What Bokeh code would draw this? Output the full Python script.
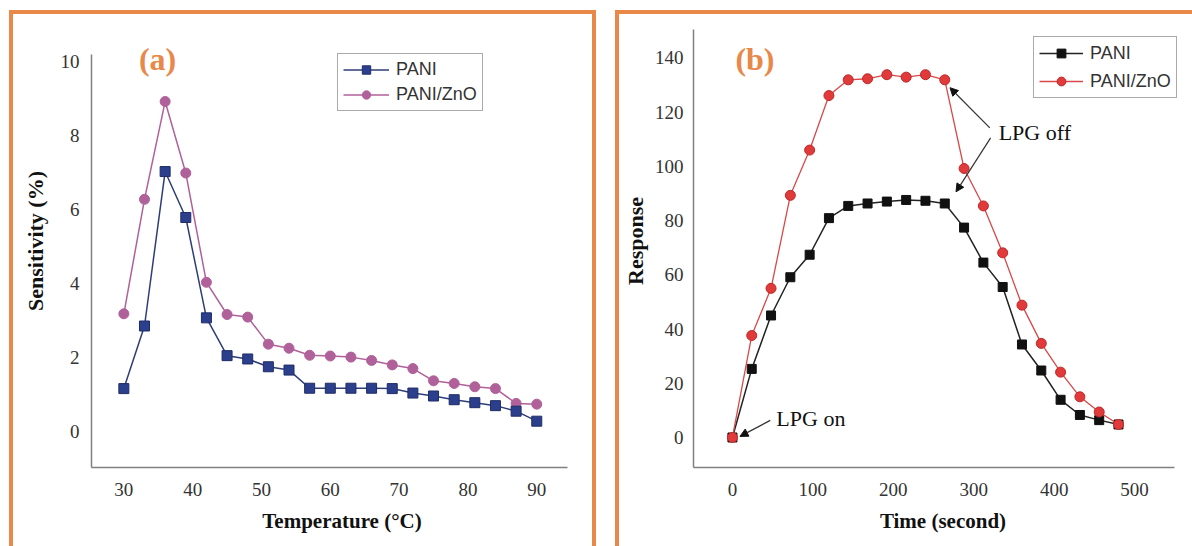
from bokeh.plotting import figure
from bokeh.layouts import row
from bokeh.models import (Arrow, NormalHead, Label, Legend, LegendItem,
                          FixedTicker, Range1d)
from bokeh.embed import file_html
from bokeh.resources import INLINE

# ---------------- data ----------------
temperature = [30, 33, 36, 39, 42, 45, 48, 51, 54, 57, 60, 63, 66, 69, 72, 75, 78, 81, 84, 87, 90]
sens_pani = [1.17, 2.86, 7.03, 5.79, 3.08, 2.06, 1.97, 1.76, 1.67, 1.18, 1.18,
             1.18, 1.18, 1.17, 1.05, 0.97, 0.87, 0.79, 0.71, 0.56, 0.29]
sens_zno = [3.19, 6.28, 8.92, 6.99, 4.04, 3.17, 3.10, 2.37, 2.26, 2.07, 2.05,
            2.02, 1.93, 1.81, 1.71, 1.38, 1.31, 1.22, 1.17, 0.77, 0.75]

time_s = [0, 24, 48, 72, 96, 120, 144, 168, 192, 216, 240, 264, 288, 312, 336,
          360, 384, 408, 432, 456, 480]
resp_pani = [0, 25.3, 45.0, 59.1, 67.4, 80.9, 85.4, 86.3, 87.0, 87.6, 87.3,
             86.3, 77.4, 64.5, 55.5, 34.3, 24.7, 13.9, 8.3, 6.4, 4.8]
resp_zno = [0, 37.6, 55.0, 89.3, 106.0, 126.1, 131.9, 132.3, 133.8, 132.9, 133.8,
            131.9, 99.2, 85.4, 68.1, 48.8, 34.7, 24.1, 15.0, 9.4, 4.8]

ticks_a_x = [30, 40, 50, 60, 70, 80, 90]
ticks_a_y = [0, 2, 4, 6, 8, 10]
ticks_b_x = [0, 100, 200, 300, 400, 500]
ticks_b_y = [0, 20, 40, 60, 80, 100, 120, 140]

ORANGE = "#E8894A"
SERIF = "Liberation Serif"
SANS = "Liberation Sans"


def style_axes(p, xlabel, ylabel, xticks, yticks, xb, yb, ystand, ylabstand):
    for ax in (p.xaxis[0], p.yaxis[0]):
        ax.axis_line_color = "#808080"
        ax.axis_line_width = 1.5
        ax.major_tick_line_color = None
        ax.minor_tick_line_color = None
        ax.major_label_text_font = SERIF
        ax.major_label_text_font_size = "19px"
        ax.major_label_text_color = "#333333"
        ax.axis_label_text_font = SERIF
        ax.axis_label_text_font_style = "bold"
        ax.axis_label_text_color = "#111111"
    p.xaxis[0].ticker = FixedTicker(ticks=xticks)
    p.yaxis[0].ticker = FixedTicker(ticks=yticks)
    p.xaxis[0].bounds = xb
    p.yaxis[0].bounds = yb
    p.xaxis[0].axis_label = xlabel
    p.yaxis[0].axis_label = ylabel
    p.xaxis[0].axis_label_text_font_size = "21px"
    p.yaxis[0].axis_label_text_font_size = "22px"
    p.xaxis[0].major_label_standoff = 9
    p.yaxis[0].major_label_standoff = ystand
    p.xaxis[0].axis_label_standoff = 10
    p.yaxis[0].axis_label_standoff = ylabstand
    p.xgrid.grid_line_color = None
    p.ygrid.grid_line_color = None
    p.outline_line_color = None
    p.frame_align = False


def make_legend(p, items, loc, glyph_w, glyph_h, spacing):
    leg = Legend(items=items, location=loc, orientation="vertical",
                 glyph_width=glyph_w, glyph_height=glyph_h,
                 label_text_font=SANS, label_text_font_size="18px",
                 label_text_color="#333333", label_standoff=7,
                 border_line_color="#555555", border_line_width=1.5,
                 padding=5, spacing=spacing, margin=0, background_fill_alpha=1)
    p.add_layout(leg, "center")


# ---------------- panel (a) ----------------
p1 = figure(width=587, height=536, output_backend="svg", toolbar_location=None,
            x_range=Range1d(25.3, 98.1), y_range=Range1d(-0.96, 11.27),
            min_border_left=78, min_border_right=8, min_border_top=0,
            min_border_bottom=83)
style_axes(p1, "Temperature (°C)", "Sensitivity (%)", ticks_a_x, ticks_a_y,
           (25.3, 94.5), (-0.96, 10.19), 6, 10)

c_pani_a = "#2E3D78"
c_zno_a = "#B0619A"
l1 = p1.line(temperature, sens_zno, line_color=c_zno_a, line_width=1.5)
m1 = p1.scatter(temperature, sens_zno, marker="circle", size=10,
                fill_color=c_zno_a, line_color=c_zno_a)
l2 = p1.line(temperature, sens_pani, line_color=c_pani_a, line_width=1.5)
m2 = p1.scatter(temperature, sens_pani, marker="square", size=10,
                fill_color="#2B3F8C", line_color="#1F2D66")
make_legend(p1, [LegendItem(label="PANI", renderers=[l2, m2]),
                 LegendItem(label="PANI/ZnO", renderers=[l1, m1])],
            (246, 356), 46, 21, 4)
p1.add_layout(Label(x=34.9, y=10.08, text="(a)", text_font=SERIF,
                    text_font_style="bold", text_font_size="32px",
                    text_color=ORANGE, text_align="center",
                    text_baseline="middle"))
p1.styles = {"border-top": f"4px solid {ORANGE}", "border-left": f"4px solid {ORANGE}",
             "border-right": f"4px solid {ORANGE}"}
p1.margin = (10, 0, 0, 9)

# ---------------- panel (b) ----------------
p2 = figure(width=577, height=536, output_backend="svg", toolbar_location=None,
            x_range=Range1d(-48.4, 572), y_range=Range1d(-11.07, 156.0),
            min_border_left=73, min_border_right=4, min_border_top=0,
            min_border_bottom=83)
style_axes(p2, "Time (second)", "Response", ticks_b_x, ticks_b_y,
           (-48.4, 550), (-11.07, 150.5), 4, 4)

c_zno_b = "#E03A3A"
l3 = p2.line(time_s, resp_pani, line_color="#222222", line_width=1.5)
m3 = p2.scatter(time_s, resp_pani, marker="square", size=9,
                fill_color="#111111", line_color="#111111")
l4 = p2.line(time_s, resp_zno, line_color="#D94848", line_width=1.3)
m4 = p2.scatter(time_s, resp_zno, marker="circle", size=10,
                fill_color=c_zno_b, line_color="#C02828")
make_legend(p2, [LegendItem(label="PANI", renderers=[l3, m3]),
                 LegendItem(label="PANI/ZnO", renderers=[l4, m4])],
            (340, 369), 44, 22, 6)
p2.add_layout(Label(x=28, y=139.6, text="(b)", text_font=SERIF,
                    text_font_style="bold", text_font_size="32px",
                    text_color=ORANGE, text_align="center",
                    text_baseline="middle"))
for txt, x, y in [("LPG on", 54.6, 7.0), ("LPG off", 331, 112.4)]:
    p2.add_layout(Label(x=x, y=y, text=txt, text_font=SERIF,
                        text_font_size="22px", text_color="#111111",
                        text_align="left", text_baseline="middle"))
for xs, ys, xe, ye in [(47, 6.3, 9.4, 0.4), (320, 114.2, 270.5, 129),
                       (321, 110.5, 278, 90.6)]:
    p2.add_layout(Arrow(x_start=xs, y_start=ys, x_end=xe, y_end=ye,
                        line_color="#333333", line_width=1.2,
                        end=NormalHead(size=8, fill_color="#111111",
                                       line_color="#111111")))
p2.styles = {"border-top": f"4px solid {ORANGE}", "border-left": f"4px solid {ORANGE}"}
p2.margin = (10, 0, 0, 19)

layout = row(p1, p2)
open("out.html", "w").write(file_html(layout, INLINE))
